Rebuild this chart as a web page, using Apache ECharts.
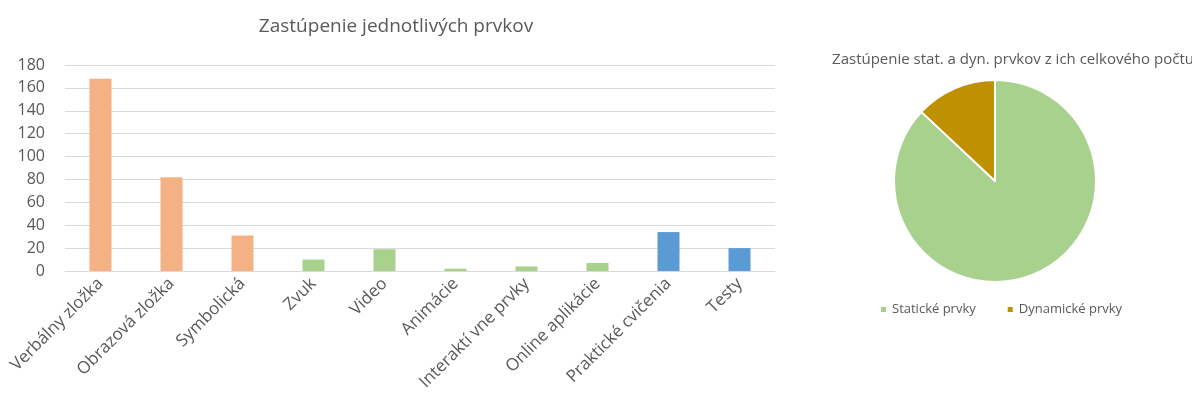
<!DOCTYPE html>
<html>
<head>
<meta charset="utf-8">
<script src="https://cdn.jsdelivr.net/npm/echarts@6/dist/echarts.min.js"></script>
<style>
  html, body { margin: 0; padding: 0; background: #fff; }
  #chart { width: 1192px; height: 401px; }
</style>
</head>
<body>
<div id="chart"></div>
<script>
// kategórie a hodnoty stĺpcového grafu
const categories = ["Verbálny zložka", "Obrazová zložka", "Symbolická", "Zvuk", "Video",
  "Animácie", "Interaktí vne prvky", "Online aplikácie", "Praktické cvičenia", "Testy"];
const counts = [168, 82, 31, 10, 19, 2, 4, 7, 34, 20];
// skupina každého prvku (0 statické, 1 dynamické, 2 ostatné)
const groups = [0, 0, 0, 1, 1, 1, 1, 1, 2, 2];
const yTicks = [0, 20, 40, 60, 80, 100, 120, 140, 160, 180];

// koláčový graf
const pieNames = ["Statické prvky", "Dynamické prvky"];
const pieValues = [281, 42];

const groupColors = ["#F4B183", "#A9D18E", "#5B9BD5"];
const pieColors = ["#A9D18E", "#BF9000"];
const font = "'Open Sans', 'Noto Sans', sans-serif";

const chart = echarts.init(document.getElementById("chart"), null, { renderer: "canvas" });

const option = {
  animation: false,
  textStyle: { fontFamily: font, color: "#595959" },
  title: [
    {
      text: "Zastúpenie jednotlivých prvkov",
      left: 391, top: 12, textAlign: "center",
      textStyle: { fontFamily: font, fontSize: 19, fontWeight: "normal", color: "#595959" }
    },
    {
      text: "Zastúpenie stat. a dyn. prvkov z ich celkového počtu",
      left: 1008, top: 47, textAlign: "center",
      textStyle: { fontFamily: font, fontSize: 15, fontWeight: "normal", color: "#595959" }
    }
  ],
  legend: {
    data: pieNames,
    orient: "horizontal",
    left: 874, top: 298,
    itemWidth: 7, itemHeight: 7, itemGap: 30,
    icon: "rect",
    textStyle: { fontFamily: font, fontSize: 13, color: "#595959" }
  },
  grid: { left: 65, right: 417, top: 65, bottom: 130 },
  xAxis: {
    type: "category",
    data: categories,
    axisLine: { lineStyle: { color: "#D9D9D9" } },
    axisTick: { show: false },
    axisLabel: { rotate: 45, fontSize: 17, color: "#595959", fontFamily: font, margin: 10, interval: 0 }
  },
  yAxis: {
    type: "value",
    min: yTicks[0], max: yTicks[yTicks.length - 1], interval: 20,
    axisLine: { show: false },
    axisTick: { show: false },
    splitLine: { lineStyle: { color: "#D9D9D9" } },
    axisLabel: { fontSize: 16, color: "#595959", fontFamily: font, margin: 20 }
  },
  series: [
    {
      type: "bar",
      barWidth: 22,
      data: counts.map((v, i) => ({ value: v, itemStyle: { color: groupColors[groups[i]] } }))
    },
    {
      type: "pie",
      center: [995, 181],
      radius: 101,
      startAngle: 90,
      label: { show: false },
      labelLine: { show: false },
      itemStyle: { borderColor: "#fff", borderWidth: 2 },
      data: pieNames.map((n, i) => ({ name: n, value: pieValues[i], itemStyle: { color: pieColors[i] } }))
    }
  ]
};

chart.setOption(option);
</script>
</body>
</html>
